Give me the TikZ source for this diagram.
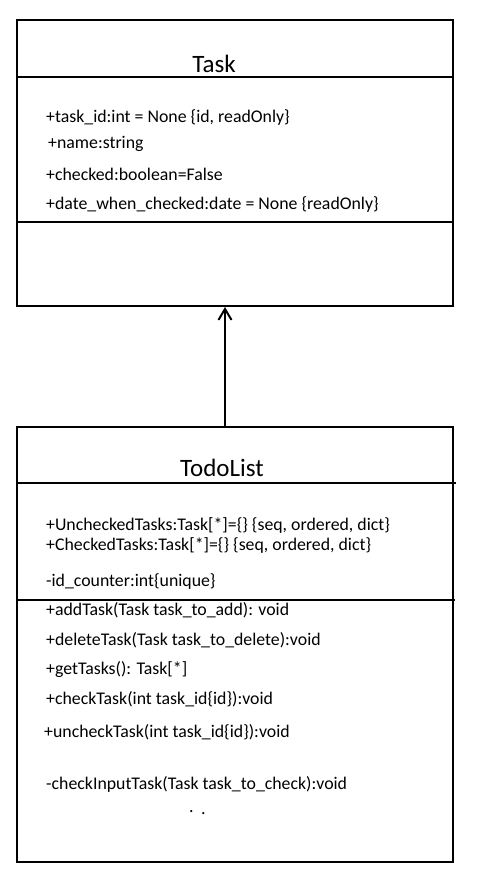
\documentclass[tikz,border=0pt]{standalone}
\usepackage{fontspec}
\setmainfont{Carlito}
\usetikzlibrary{arrows.meta}
\begin{document}
\begin{tikzpicture}[x=1pt,y=-1pt,
  box/.style={draw,line width=2pt,rectangle,inner sep=0pt,anchor=north west},
  divider/.style={line width=2pt},
  title/.style={anchor=base,inner sep=0pt,font=\fontsize{25}{28}\selectfont},
  member/.style={anchor=base west,inner sep=0pt,font=\fontsize{17.8}{20}\selectfont},
  gen/.style={line width=2pt,-{Straight Barb[length=11pt,width=13pt,line width=2pt]}}]
\useasboundingbox (0,0) rectangle (480,883);
% Task class
\node[box,minimum width=436pt,minimum height=286pt] (task) at (16,19) {};
\coordinate (tl1) at (16,77); \coordinate (tr1) at (452,77);
\coordinate (tl2) at (16,222); \coordinate (tr2) at (452,222);
\draw[divider] (tl1) -- (tr1);
\draw[divider] (tl2) -- (tr2);
\node[title] (tasktitle) at (214,73) {Task};
\node[member] (a1) at (46,122) {+task\_id:int = None \{id, readOnly\}};
\node[member] (a2) at (48,148.5) {+name:string};
\node[member] (a3) at (46,180) {+checked:boolean=False};
\node[member] (a4) at (46,209) {+date\_when\_checked:date = None \{readOnly\}};
% TodoList class
\node[box,minimum width=436pt,minimum height=435pt] (todo) at (16,426) {};
\coordinate (dl1) at (16,483); \coordinate (dr1) at (456,483);
\coordinate (dl2) at (16,600); \coordinate (dr2) at (455,600);
\draw[divider] (dl1) -- (dr1);
\draw[divider] (dl2) -- (dr2);
\node[title] (todotitle) at (222,476) {TodoList};
\node[member] (b1) at (46,530) {+UncheckedTasks:Task[*]=\{\} \{seq, ordered, dict\}};
\node[member] (b2) at (46,550) {+CheckedTasks:Task[*]=\{\} \{seq, ordered, dict\}};
\node[member] (b3) at (46,586) {-id\_counter:int\{unique\}};
\node[member] (m1) at (46,615) {+addTask(Task task\_to\_add): void};
\node[member] (m2) at (46,645) {+deleteTask(Task task\_to\_delete):void};
\node[member] (m3) at (46,674.5) {+getTasks(): Task[*]};
\node[member] (m4) at (46,704) {+checkTask(int task\_id\{id\}):void};
\node[member] (m5) at (44,737) {+uncheckTask(int task\_id\{id\}):void};
\node[member] (m6) at (46,789) {-checkInputTask(Task task\_to\_check):void};
\node[member] (dotA) at (189,812) {.};
\node[member] (dotB) at (201,814) {.};
% generalization arrow
\draw[gen] (todo.north -| 225,0) -- (task.south -| 225,0);
\end{tikzpicture}
\end{document}
